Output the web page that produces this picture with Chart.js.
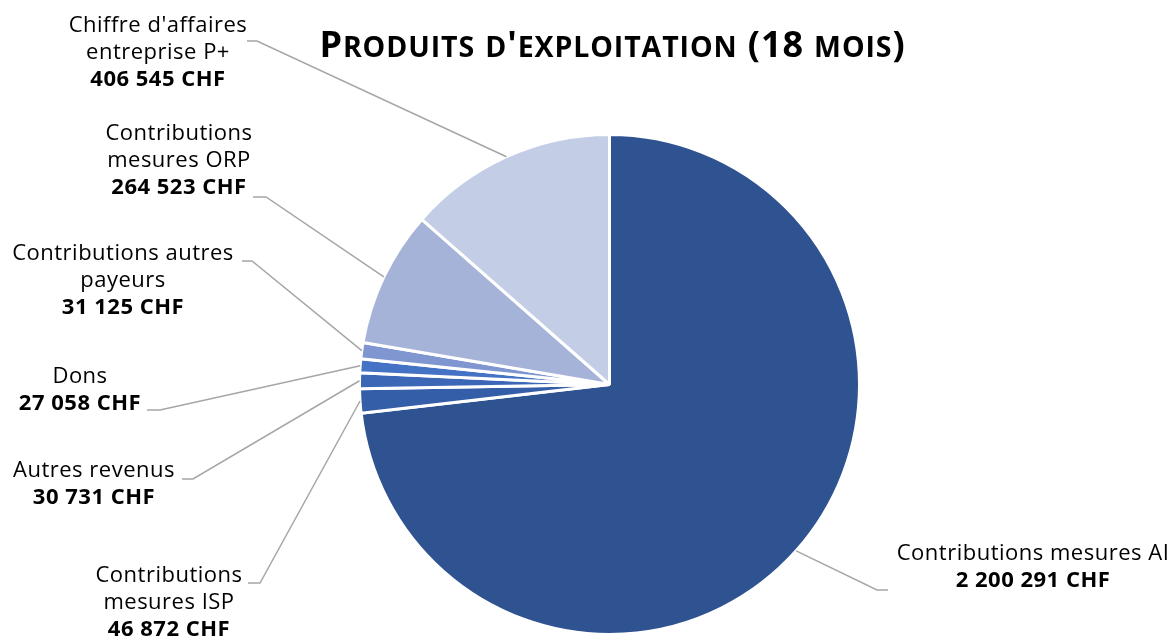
<!DOCTYPE html>
<html><head><meta charset="utf-8">
<script src="https://cdn.jsdelivr.net/npm/chart.js@4.4.1/dist/chart.umd.min.js"></script>
<style>html,body{margin:0;padding:0;background:#fff}#wrap{width:1174px;height:639px}</style>
</head><body><div id="wrap"><canvas id="c" width="1174" height="639"></canvas></div>
<script>
// ---- data ----
const chartTitle = "Produits d'exploitation (18 mois)";
const categories = [
  "Contributions mesures AI",
  "Contributions\nmesures ISP",
  "Autres revenus",
  "Dons",
  "Contributions autres\npayeurs",
  "Contributions\nmesures ORP",
  "Chiffre d'affaires\nentreprise P+"
];
const values = [2200291, 46872, 30731, 27058, 31125, 264523, 406545];
const currency = "CHF";
const colors = ["#2F5290", "#355EA8", "#3C67B7", "#4472C4", "#7F96D0", "#A6B3D9", "#C3CDE5"];

// ---- label layout (text anchor + leader elbow) ----
const labelLayout = [
  {x: 1033, y: 560, hx: 888, hy: 590, ex: 877, ey: 590},
  {x: 169,  y: 582, hx: 248, hy: 583, ex: 260, ey: 583},
  {x: 94,   y: 477, hx: 182, hy: 479, ex: 193, ey: 479},
  {x: 80,   y: 383, hx: 147, hy: 410, ex: 160, ey: 410},
  {x: 123,  y: 260, hx: 242, hy: 261, ex: 252, ey: 261},
  {x: 179,  y: 140, hx: 253, hy: 197, ex: 266, ey: 197},
  {x: 158,  y: 32,  hx: 247, hy: 41,  ex: 257, ey: 41}
];

const FONT = "'Open Sans', 'Noto Sans', sans-serif";
const LABEL_SIZE = 22;
const LABEL_SPACING = "0.5px";
const LINE_H = 27;

function fmt(v) {
  return String(v).replace(/\B(?=(\d{3})+(?!\d))/g, " ") + " " + currency;
}

function drawSmallCaps(ctx, text, cx, baseline, big, small, track) {
  const parts = [];
  for (const ch of text) {
    const isLower = ch !== ch.toUpperCase();
    parts.push({t: ch.toUpperCase(), size: isLower ? small : big});
  }
  let total = 0;
  for (const p of parts) {
    ctx.font = "bold " + p.size + "px " + FONT;
    p.w = ctx.measureText(p.t).width;
    total += p.w;
  }
  total += track * (parts.length - 1);
  let x = cx - total / 2;
  ctx.textAlign = "left";
  ctx.textBaseline = "alphabetic";
  for (const p of parts) {
    ctx.font = "bold " + p.size + "px " + FONT;
    ctx.fillText(p.t, x, baseline);
    x += p.w + track;
  }
}

const labelPlugin = {
  id: "pieLabels",
  afterDraw(chart) {
    const ctx = chart.ctx;
    ctx.save();
    ctx.fillStyle = "#000";
    drawSmallCaps(ctx, chartTitle, 612, 57, 36, 28.5, 0.9);

    const arcs = chart.getDatasetMeta(0).data;
    arcs.forEach((arc, i) => {
      const L = labelLayout[i];
      const p = arc.getProps(["x", "y", "startAngle", "endAngle", "outerRadius"], true);
      const mid = (p.startAngle + p.endAngle) / 2;
      const r = p.outerRadius;
      const sx = p.x + Math.cos(mid) * r;
      const sy = p.y + Math.sin(mid) * r;
      ctx.strokeStyle = "#A6A6A6";
      ctx.lineWidth = 1.5;
      ctx.beginPath();
      ctx.moveTo(sx, sy);
      ctx.lineTo(L.ex, L.ey);
      ctx.lineTo(L.hx, L.hy);
      ctx.stroke();

      const lines = categories[i].split("\n");
      ctx.textAlign = "center";
      ctx.textBaseline = "alphabetic";
      ctx.fillStyle = "#000";
      if ("letterSpacing" in ctx) ctx.letterSpacing = LABEL_SPACING;
      ctx.font = LABEL_SIZE + "px " + FONT;
      lines.forEach((ln, k) => ctx.fillText(ln, L.x, L.y + k * LINE_H));
      ctx.font = "bold " + LABEL_SIZE + "px " + FONT;
      ctx.fillText(fmt(values[i]), L.x, L.y + lines.length * LINE_H);
      if ("letterSpacing" in ctx) ctx.letterSpacing = "0px";
    });
    ctx.restore();
  }
};

new Chart(document.getElementById("c"), {
  type: "pie",
  data: {
    labels: categories,
    datasets: [{
      data: values,
      backgroundColor: colors,
      borderColor: "#FFFFFF",
      borderWidth: 3
    }]
  },
  options: {
    responsive: false,
    animation: false,
    devicePixelRatio: 1,
    layout: {padding: {top: 133, bottom: 3, left: 358, right: 313}},
    plugins: {legend: {display: false}, tooltip: {enabled: false}, title: {display: false}}
  },
  plugins: [labelPlugin]
});
</script>
</body></html>
